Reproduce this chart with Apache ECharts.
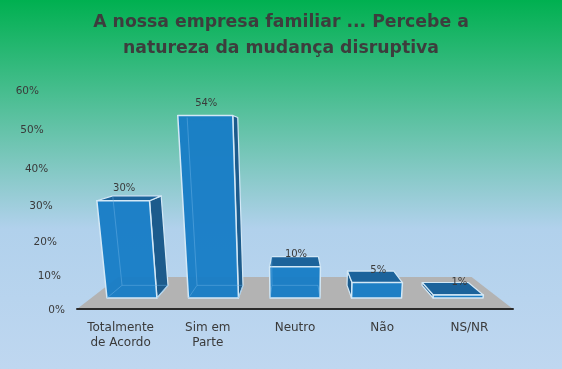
<!DOCTYPE html>
<html><head><meta charset="utf-8">
<style>html,body{margin:0;padding:0;background:#bdd5ee}#c{width:562px;height:369px}</style>
<script src="https://cdn.jsdelivr.net/npm/echarts@6/dist/echarts.min.js"></script>
</head><body><div id="c"></div>
<script>
const categories = ['Totalmente\nde Acordo', 'Sim em\nParte', 'Neutro', 'Não', 'NS/NR'];
const percentValues = [30, 54, 10, 5, 1];
const yTicks = [0, 10, 20, 30, 40, 50, 60];
const titleText = 'A nossa empresa familiar ... Percebe a\nnatureza da mudança disruptiva';

// perspective camera of the original 3D chart
const HORIZON_ABOVE_AXIS = 169, WARP_A = 0.9, WARP_B = 0.000457, FLARE = 0.000516;
const DEPTH_FRONT = 0.935, DEPTH_BACK = 0.86, DEPTH_FLOOR_BACK = 0.81, BAR_SHARE = 0.613;
const warp = L => L * (WARP_A + WARP_B * L);

function projector(cs) {
  const cx = cs.x + cs.width / 2, base = cs.y + cs.height, hy = base - HORIZON_ABOVE_AXIS;
  return (x, L, s) => {
    const w = warp(L);
    return [cx + (x - cx) * (1 + FLARE * w) * s, hy + (base - w - hy) * s];
  };
}
const FONT = '"DejaVu Sans"';
const EDGE = '#d3e8f6';

function renderFloor(params, api) {
  const cs = params.coordSys, P = projector(cs), l = cs.x, r = cs.x + cs.width;
  return { type: 'polygon', silent: true,
    shape: { points: [P(l, 0, 1), P(r, 0, 1), P(r, 0, DEPTH_FLOOR_BACK), P(l, 0, DEPTH_FLOOR_BACK)] },
    style: { fill: '#b3b3b3' } };
}

function renderBar(params, api) {
  const cs = params.coordSys, P = projector(cs), cx = cs.x + cs.width / 2;
  const cat = api.value(0), val = api.value(1);
  const c = api.coord([cat, val]), b = api.coord([cat, 0]);
  const half = api.size([1, 0])[0] * BAR_SHARE / 2;
  const L = b[1] - c[1], x0 = c[0] - half, x1 = c[0] + half;
  const fbl = P(x0, 0, DEPTH_FRONT), fbr = P(x1, 0, DEPTH_FRONT), ftl = P(x0, L, DEPTH_FRONT), ftr = P(x1, L, DEPTH_FRONT);
  const bbl = P(x0, 0, DEPTH_BACK), bbr = P(x1, 0, DEPTH_BACK), btl = P(x0, L, DEPTH_BACK), btr = P(x1, L, DEPTH_BACK);
  const face = (pts, fill, stroke, lw) => ({ type: 'polygon', silent: true, shape: { points: pts },
    style: { fill: fill, stroke: stroke, lineWidth: lw, lineJoin: 'round' } });
  const line = (a, b2) => ({ type: 'line', silent: true,
    shape: { x1: a[0], y1: a[1], x2: b2[0], y2: b2[1] },
    style: { stroke: 'rgba(110,180,230,0.45)', lineWidth: 1 } });
  const kids = [];
  if (x1 < cx - half * 0.2) kids.push(face([fbr, bbr, btr, ftr], '#1c5b8c', EDGE, 1.2));
  if (x0 > cx) kids.push(face([fbl, bbl, btl, ftl], '#1c5b8c', EDGE, 1.2));
  if (ftl[1] > btl[1]) kids.push(face([ftl, ftr, btr, btl], '#1c639b', EDGE, 1.2));
  kids.push(face([ftl, ftr, fbr, fbl], 'rgba(24,125,198,0.96)', EDGE, 1.5));
  if (val > 5) kids.push(line(fbl, bbl), line(fbr, bbr), line(bbl, bbr), line(bbl, btl));
  const w = warp(L);
  const tm = P(c[0], L, DEPTH_BACK);
  kids.push({ type: 'text', silent: true, z2: 10,
    style: { text: val + '%', x: (ftl[0] + ftr[0]) / 2 + 1, y: tm[1] - 0.07 * w,
      align: 'center', verticalAlign: 'middle', fill: '#3a3a3a', font: '10px ' + FONT } });
  return { type: 'group', children: kids };
}

// y tick labels follow the same perspective as the bars
const H = 219, AXIS_GAP = 12, PLOT_HALF = 218 + AXIS_GAP;
const richY = {};
yTicks.forEach(v => {
  const L = v / 60 * H, w = warp(L);
  const shift = PLOT_HALF * FLARE * w, drop = Math.max(0, L - w) + 1.2;
  richY['t' + v] = { padding: [2 * drop, shift, 0, 0],
    fontFamily: FONT, fontSize: 10.5, color: '#3a3a3a' };
});

const chart = echarts.init(document.getElementById('c'), null, { renderer: 'canvas' });
chart.setOption({
  animation: false,
  backgroundColor: { type: 'linear', x: 0, y: 0, x2: 0, y2: 1,
    colorStops: [{ offset: 0, color: '#00b050' }, { offset: 0.62, color: '#b1d1ec' }, { offset: 1, color: '#bfd7f0' }] },
  title: { text: titleText, left: 'center', top: 5,
    textStyle: { fontFamily: FONT, fontWeight: 'bold', fontSize: 17.3, color: '#3d3d3d', lineHeight: 26 } },
  grid: { left: 77, right: 49, top: 90, bottom: 60, containLabel: false },
  xAxis: { type: 'category', data: categories, z: 6,
    axisLine: { lineStyle: { color: '#2b2b2b', width: 2 } }, axisTick: { show: false },
    axisLabel: { interval: 0, margin: 11, fontFamily: FONT, fontSize: 12, lineHeight: 15, color: '#3a3a3a' } },
  yAxis: { type: 'value', min: 0, max: 60, interval: 10,
    axisLine: { show: false }, axisTick: { show: false }, splitLine: { show: false },
    axisLabel: { margin: AXIS_GAP, formatter: v => '{t' + v + '|' + v + '%}', rich: richY } },
  series: [
    { type: 'custom', name: 'floor', z: 1, clip: false, silent: true, renderItem: renderFloor,
      data: [[0, 0]], encode: { x: 0, y: 1 } },
    { type: 'custom', name: 'percent', z: 2, clip: false, silent: true, renderItem: renderBar,
      data: percentValues.map((v, i) => [i, v]), encode: { x: 0, y: 1 } }
  ]
});
</script></body></html>
